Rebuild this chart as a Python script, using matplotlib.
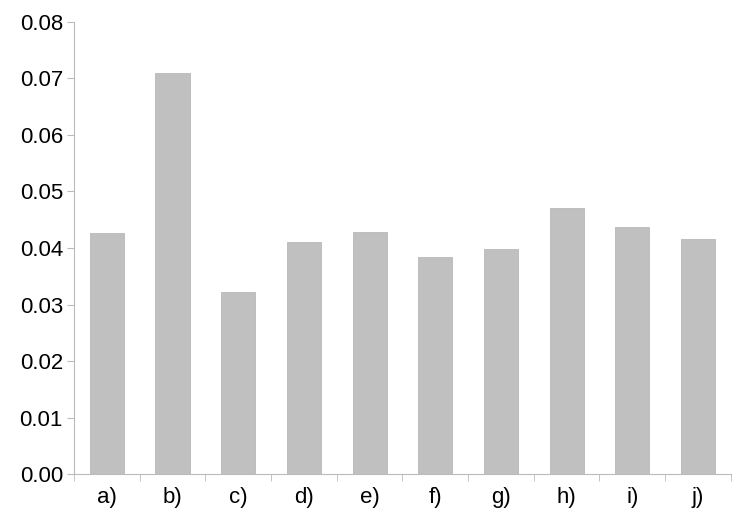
import numpy as np
import matplotlib
matplotlib.use("Agg")
import matplotlib.pyplot as plt

categories = ["a)", "b)", "c)", "d)", "e)", "f)", "g)", "h)", "i)", "j)"]
values = [0.0427, 0.0710, 0.0322, 0.0411, 0.0428, 0.0384, 0.0398, 0.0471, 0.0437, 0.0416]
yticks = [0.00, 0.01, 0.02, 0.03, 0.04, 0.05, 0.06, 0.07, 0.08]

plt.rcParams["font.family"] = ["Liberation Sans", "DejaVu Sans"]

fig = plt.figure(figsize=(7.48, 5.21), dpi=100)
ax = fig.add_axes([0.099, 0.090, 0.878, 0.868])

x = np.arange(len(categories))
ax.bar(x, values, width=0.52, color="#c0c0c0", edgecolor="#b8b8b8", linewidth=0.6)

ax.set_xlim(-0.5, len(categories) - 0.5)
ax.set_ylim(0, 0.08)
ax.set_yticks(yticks)
ax.set_yticklabels([f"{v:.2f}" for v in yticks])
ax.set_xticks(x)
ax.set_xticklabels(categories)
ax.set_xticks(np.arange(-0.5, len(categories)), minor=True)

for side in ("top", "right"):
    ax.spines[side].set_visible(False)
for side in ("left", "bottom"):
    ax.spines[side].set_color("#bbbbbb")
    ax.spines[side].set_linewidth(0.8)

ax.tick_params(axis="y", labelsize=16, length=5, color="#bbbbbb", pad=3)
ax.tick_params(axis="x", which="major", labelsize=16, length=0, pad=9)
ax.tick_params(axis="x", which="minor", length=5, color="#bbbbbb")

fig.savefig("out.png", dpi=100)
